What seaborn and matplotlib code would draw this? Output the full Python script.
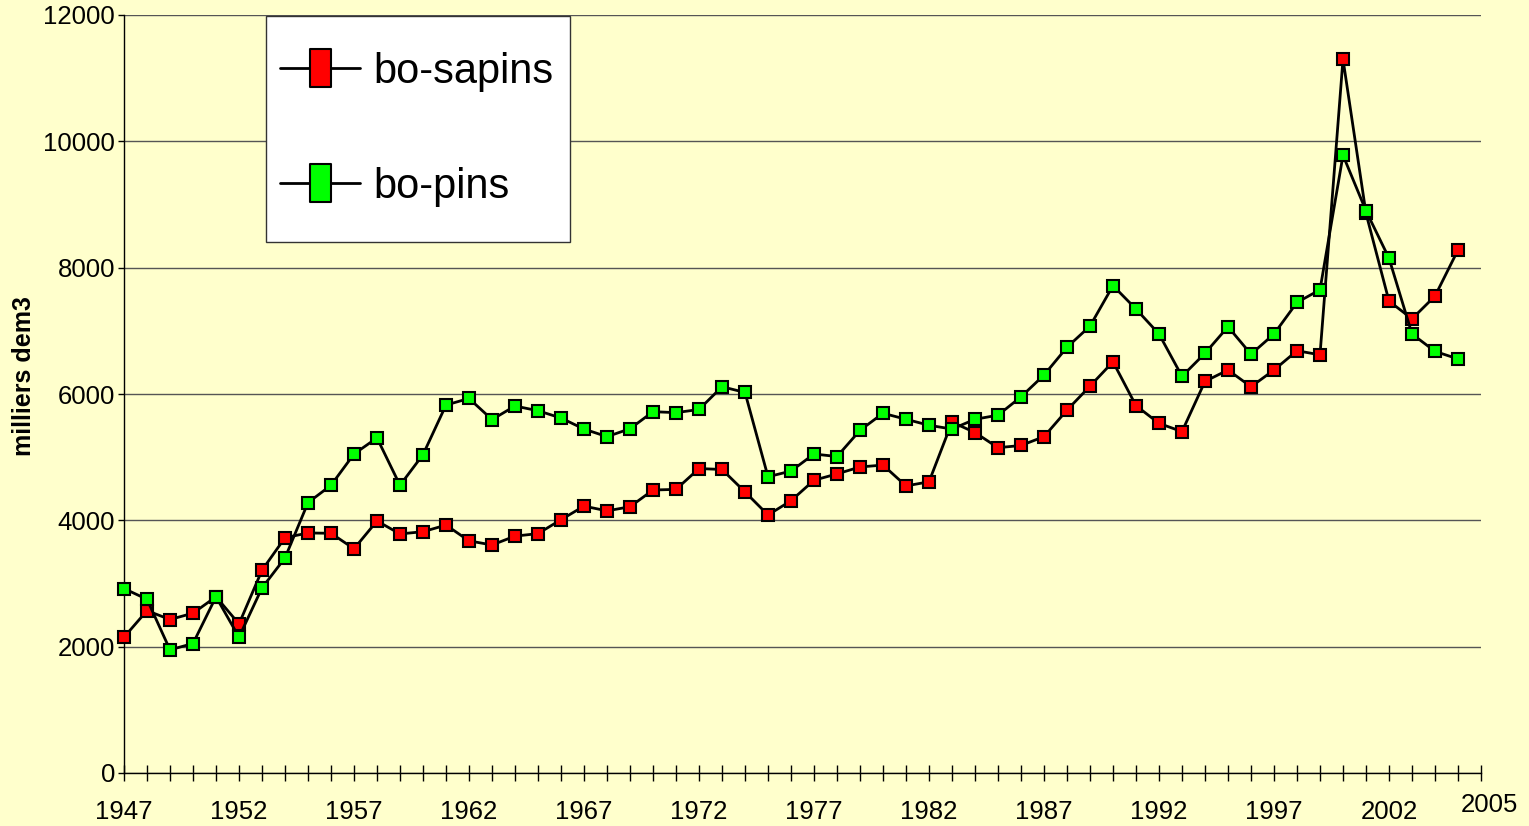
import matplotlib
matplotlib.use("Agg")
import matplotlib.pyplot as plt
import matplotlib.transforms as mtransforms
from matplotlib.lines import Line2D
from matplotlib.patches import Rectangle
from matplotlib.path import Path
from matplotlib.ticker import MultipleLocator
import pandas as pd
import seaborn as sns

# donnees (milliers de m3)
annees = list(range(1947, 2006))
bo_sapins = [2150, 2570, 2430, 2530, 2790, 2360, 3210, 3725, 3800, 3795,
             3550, 3990, 3785, 3820, 3925, 3675, 3610, 3750, 3790, 4010,
             4225, 4150, 4215, 4480, 4490, 4820, 4805, 4450, 4085, 4310,
             4635, 4735, 4845, 4875, 4545, 4610, 5555, 5390, 5150, 5185,
             5325, 5745, 6125, 6510, 5815, 5535, 5405, 6200, 6380, 6115,
             6380, 6685, 6620, 11300, 8860, 7470, 7190, 7550, 8280]
bo_pins = [2920, 2750, 1950, 2050, 2790, 2150, 2930, 3405, 4280, 4555,
           5050, 5305, 4555, 5040, 5825, 5930, 5595, 5810, 5735, 5620,
           5445, 5325, 5450, 5720, 5705, 5755, 6115, 6025, 4690, 4780,
           5050, 5010, 5425, 5695, 5600, 5505, 5445, 5600, 5665, 5955,
           6300, 6740, 7075, 7715, 7345, 6950, 6280, 6645, 7065, 6630,
           6950, 7450, 7650, 9780, 8900, 8150, 6950, 6675, 6555]
series = ["bo-sapins", "bo-pins"]
couleurs = ["#FF0000", "#00FF00"]
annees_etiquettes = list(range(1947, 2003, 5))

df = pd.DataFrame({"annee": annees, "bo-sapins": bo_sapins, "bo-pins": bo_pins})

sns.set_theme(style="white")
plt.rcParams["font.family"] = ["Liberation Sans", "DejaVu Sans"]
plt.rcParams["text.color"] = "black"
plt.rcParams["axes.labelcolor"] = "black"
plt.rcParams["xtick.color"] = "black"
plt.rcParams["ytick.color"] = "black"

fond = "#FFFFCC"
fig, ax = plt.subplots(figsize=(15.29, 8.26), dpi=100)
fig.patch.set_facecolor(fond)
ax.set_facecolor(fond)
fig.subplots_adjust(left=124 / 1529, right=1481 / 1529, bottom=1 - 773 / 826, top=1 - 15 / 826)

for serie, couleur in zip(series, couleurs):
    sns.lineplot(data=df, x="annee", y=serie, ax=ax, color="black", lw=2,
                 marker="s", markersize=8.5, markerfacecolor=couleur,
                 markeredgecolor="black", markeredgewidth=1.5,
                 clip_on=False, zorder=3, legend=False)

ax.set_xlim(1947, 2006)
ax.set_ylim(0, 12000)
ax.set_yticks(range(0, 12001, 2000))
ax.set_xticks(annees_etiquettes)
ax.xaxis.set_minor_locator(MultipleLocator(1))
ax.yaxis.grid(True, color="#555555", lw=1)
ax.set_axisbelow(True)

for s in ["top", "right"]:
    ax.spines[s].set_visible(False)
for s in ["left", "bottom"]:
    ax.spines[s].set_color("black")
    ax.spines[s].set_linewidth(1)

ax.tick_params(axis="y", direction="out", length=4.5, width=1, color="black",
               labelsize=18.5, labelcolor="black", pad=2, left=True)
ax.tick_params(axis="x", which="both", direction="inout", length=11, width=1,
               color="black", labelsize=18.5, labelcolor="black", pad=14, bottom=True)

ax.set_xlabel("")
ax.set_ylabel("milliers dem3", fontsize=18, fontweight="bold", color="black")
ax.yaxis.set_label_coords(-0.0645, 0.524)

# etiquette 2005 decalee, comme sur l'original
trans = mtransforms.blended_transform_factory(ax.transData, ax.transAxes)
ax.text(2006.35, -0.0416, "2005", transform=trans, ha="center", va="center",
        fontsize=18.5, color="black", clip_on=False)

# cadre de la legende
cadre = Rectangle((266 / 1529, 1 - 242 / 826), 304 / 1529, 226 / 826,
                  transform=fig.transFigure, facecolor="white",
                  edgecolor="#333333", lw=1, zorder=4, clip_on=False)
ax.add_patch(cadre)

rect = Path([(-0.27, -0.5), (0.27, -0.5), (0.27, 0.5), (-0.27, 0.5), (-0.27, -0.5)],
            [Path.MOVETO, Path.LINETO, Path.LINETO, Path.LINETO, Path.CLOSEPOLY])
poignees = [Line2D([], [], color="black", lw=2, marker=rect, markersize=28,
                   markerfacecolor=c, markeredgecolor="black", markeredgewidth=1.5)
            for c in couleurs]
leg = ax.legend(poignees, series, loc="upper left",
                bbox_to_anchor=(280 / 1529, 1 - 52 / 826), bbox_transform=fig.transFigure,
                frameon=False, fontsize=30, handlelength=1.93, handletextpad=0.31,
                labelspacing=1.8, borderpad=0, borderaxespad=0)
leg.set_zorder(5)
for t in leg.get_texts():
    t.set_color("black")

fig.savefig("out.png", dpi=100, facecolor=fond)
